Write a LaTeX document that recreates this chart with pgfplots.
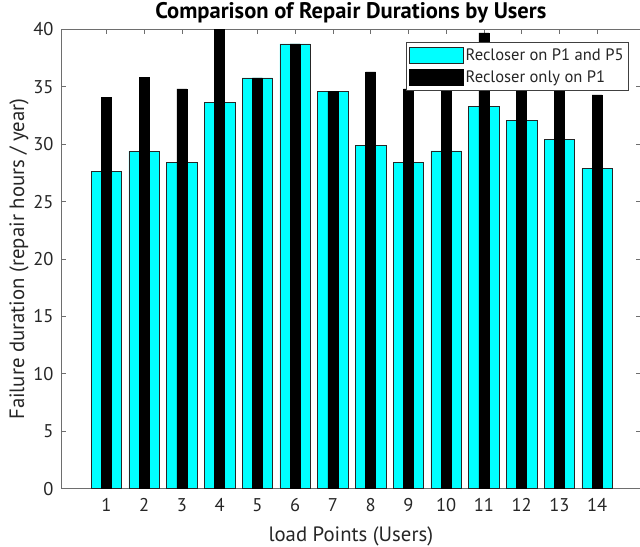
\documentclass[border=0pt]{standalone}
\usepackage{pgfplots}
\pgfplotsset{compat=1.18}
\usepackage{fontspec}
\setmainfont{PT Sans}
\definecolor{axgray}{RGB}{110,110,110}
\definecolor{txt}{RGB}{38,38,38}
\definecolor{barcyan}{RGB}{0,255,255}
\begin{document}
\begin{tikzpicture}
\begin{axis}[
  scale only axis,
  width=578.7bp, height=458.7bp,
  xmin=-0.2, xmax=15.15,
  ymin=0, ymax=40,
  ybar,
  xtick={1,...,14},
  ytick={0,5,...,40},
  tick align=inside,
  major tick length=5bp,
  axis line style={axgray, line width=0.7bp},
  every tick/.style={axgray, line width=0.7bp},
  /pgf/number format/assume math mode=true,
  tick label style={font=\fontsize{18.5}{20}\selectfont, text=txt},
  xticklabel style={yshift=-6bp},
  yticklabel style={xshift=-4bp},
  title={\bfseries Comparison of Repair Durations by Users},
  title style={font=\fontsize{22.6}{25}\selectfont, at={(0.5,1)}, anchor=base, yshift=4.5bp},
  xlabel={load Points (Users)},
  ylabel={Failure duration (repair hours / year)},
  label style={font=\fontsize{20.8}{23}\selectfont, text=txt},
  xlabel style={at={(0.5,0)}, anchor=base, yshift=-53bp},
  ylabel style={at={(0,0.5)}, anchor=base, yshift=37bp},
  legend style={at={(1,1)}, anchor=north east, xshift=-11.7bp, yshift=-13bp,
    font=\fontsize{16.6}{18}\selectfont, text=txt, draw=black!75, line width=0.6bp,
    inner xsep=3bp, inner ysep=4bp, row sep=5bp,
    nodes={inner ysep=2bp},
    /tikz/every even column/.append style={column sep=4bp}},
  legend cell align=left,
  legend image code/.code={\draw[#1,/tikz/.cd,line width=0.6bp] (0bp,-7.8bp) rectangle (54bp,7.8bp);},
]
\addplot[fill=barcyan, draw=black!85, line width=0.6bp, bar width=0.81, bar shift=0pt]
 coordinates {(1,27.64) (2,29.38) (3,28.40) (4,33.63) (5,35.77) (6,38.74) (7,34.58)
              (8,29.88) (9,28.40) (10,29.41) (11,33.27) (12,32.08) (13,30.40) (14,27.87)};
\addlegendentry{Recloser on P1 and P5}
\addplot[fill=black, draw=black, line width=0.6bp, bar width=0.265, bar shift=0pt]
 coordinates {(1,34.06) (2,35.80) (3,34.82) (4,40.05) (5,35.77) (6,38.74) (7,34.58)
              (8,36.30) (9,34.82) (10,35.83) (11,39.69) (12,38.50) (13,36.82) (14,34.29)};
\addlegendentry{Recloser only on P1}
\end{axis}
\pgfresetboundingbox
\useasboundingbox ([xshift=-61bp,yshift=-58bp]current axis.south west) rectangle ([xshift=-0.6bp,yshift=29.3bp]current axis.north east);
\end{tikzpicture}
\end{document}
